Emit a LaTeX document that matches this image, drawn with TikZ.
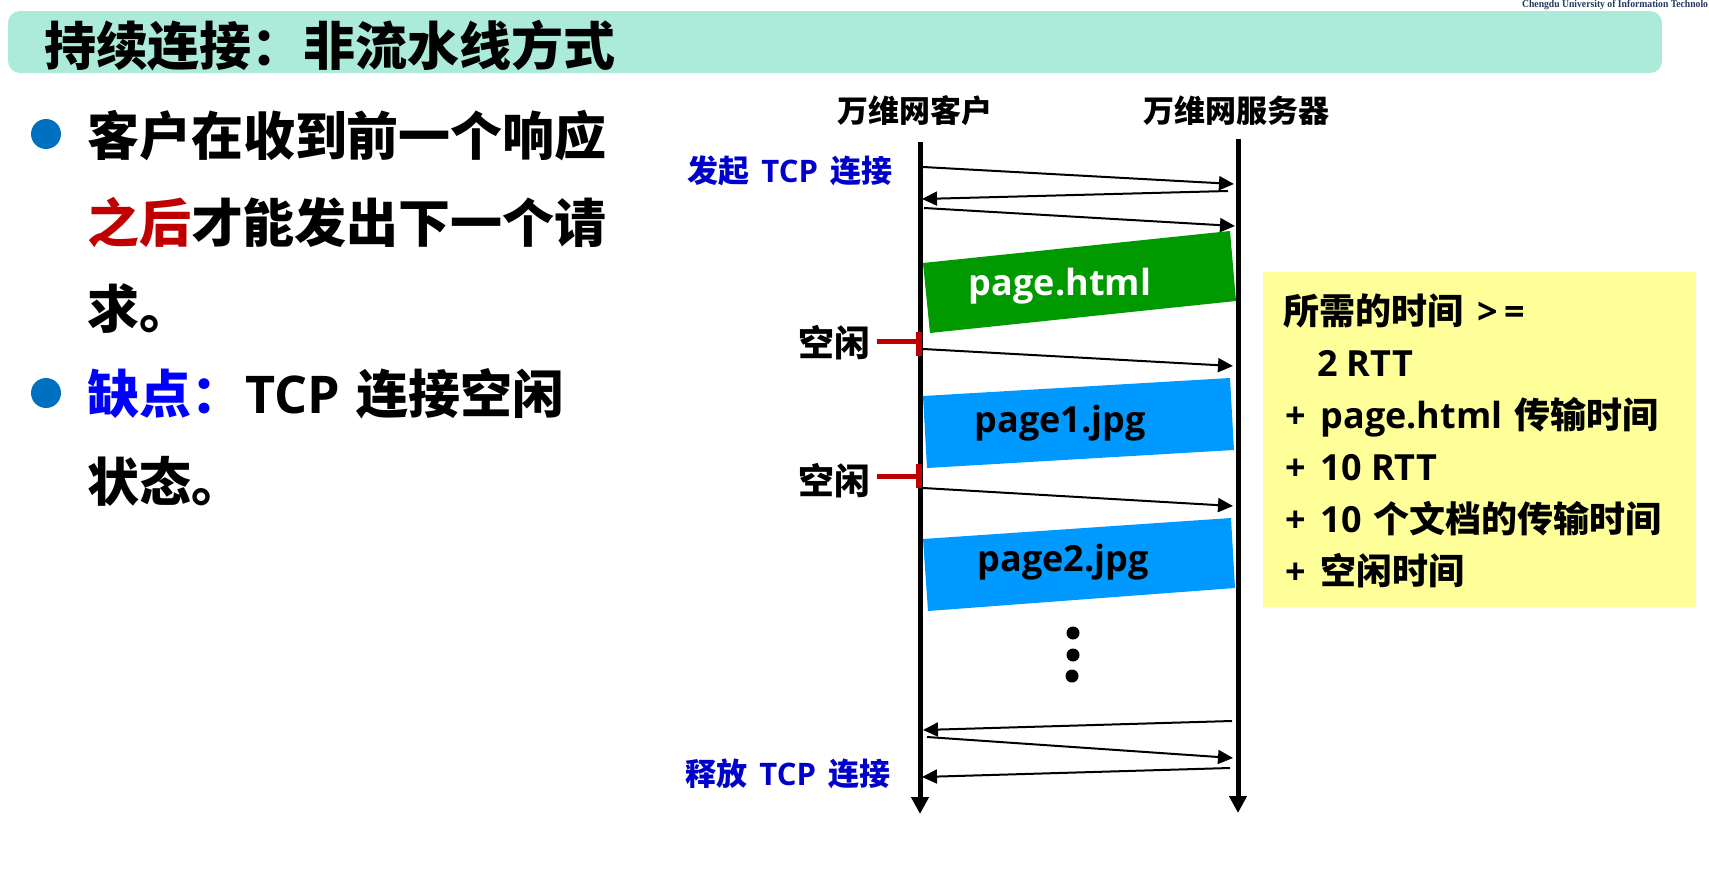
\documentclass[tikz,border=0pt]{standalone}
\usepackage{fontspec}
\usetikzlibrary{arrows.meta}
\setmainfont{Noto Sans CJK SC}
\newfontfamily\latf{Open Sans}
\newfontfamily\capf{Liberation Serif}[FakeStretch=0.92]
\newcommand\latx[1]{{\latf #1}}
\definecolor{barmint}{HTML}{ACEBD9}
\definecolor{bulletblue}{HTML}{0070C0}
\definecolor{hired}{HTML}{C00000}
\definecolor{hiblue}{HTML}{0000FF}
\definecolor{lblblue}{HTML}{0000CC}
\definecolor{htmlgreen}{HTML}{009900}
\definecolor{jpgblue}{HTML}{0099FF}
\definecolor{notebg}{HTML}{FFFF99}
\definecolor{capcol}{HTML}{23395E}
\begin{document}
\begin{tikzpicture}[x=1pt,y=-1pt,
  every node/.style={inner sep=0pt,outer sep=0pt},
  txt/.style={font=\fontsize{#1pt}{#1pt}\selectfont\bfseries},
  life/.style={line width=5pt,-{Triangle[length=17pt,width=17pt]}},
  msg/.style={line width=2pt,-{Triangle[length=15pt,width=14pt]}},
  idle/.style={line width=5pt,hired},
  idletick/.style={line width=6pt,hired},
  dot/.style={circle,fill=black,minimum size=13pt}]
\useasboundingbox (0,0) rectangle (1709,878);

% header bar and small caption
\fill[barmint,rounded corners=12pt] (8,11) rectangle (1662,73);
\node[anchor=base east,font=\capf\bfseries\fontsize{10.5pt}{11pt}\selectfont,text=capcol]
  (caption) at (1708,8) {Chengdu University of Information Technolo};
\node[txt=52,anchor=base west] (title) at (44,65) {持续连接：非流水线方式};

% bullet list
\fill[bulletblue] (46,134) circle (15);
\fill[bulletblue] (46,393) circle (15);
\node[txt=52,anchor=base west] (l1) at (87,155) {客户在收到前一个响应};
\node[txt=52,anchor=base west] (l2) at (87,242) {\textcolor{hired}{之后}才能发出下一个请};
\node[txt=52,anchor=base west] (l3) at (87,328) {求。};
\node[txt=52,anchor=base west] (l4) at (87,413) {\textcolor{hiblue}{缺点：}\hspace{2pt}\latx{TCP}\hspace{17pt}连接空闲};
\node[txt=52,anchor=base west] (l5) at (87,501) {状态。};

% lifeline headers
\node[txt=31,anchor=base] (client) at (915,122) {万维网客户};
\node[txt=31,anchor=base] (server) at (1236,122) {万维网服务器};

% lifelines
\coordinate (cTop) at (920,142);
\coordinate (cBot) at (920,814);
\coordinate (sTop) at (1238,139);
\coordinate (sBot) at (1238,813);
\draw[life] (cTop) -- (cBot);
\draw[life] (sTop) -- (sBot);

% connection set-up
\node[txt=31,anchor=base east,text=lblblue] (open) at (892,182)
  {发起\hspace{12pt}\latx{TCP}\hspace{12pt}连接};
\coordinate (a1s) at (923,167);  \coordinate (a1e) at (1234,184);
\coordinate (a2s) at (1228,191); \coordinate (a2e) at (922,199);
\coordinate (a3s) at (924,208);  \coordinate (a3e) at (1235,226);
\draw[msg] (a1s) -- (a1e);
\draw[msg] (a2s) -- (a2e);
\draw[msg] (a3s) -- (a3e);

% page.html transfer
\fill[htmlgreen] (923,263) -- (1230,231) -- (1236,301) -- (930,333) -- cycle;
\node[txt=36,anchor=base,text=white] (html) at (1060,295) {\latx{page.html}};

% first idle period and request
\node[txt=36,anchor=base east] (idle1) at (870,356) {空闲};
\coordinate (i1a) at (877,341); \coordinate (i1b) at (917,341);
\coordinate (t1a) at (919,332); \coordinate (t1b) at (919,356);
\draw[idle] (i1a) -- (i1b);
\draw[idletick] (t1a) -- (t1b);
\coordinate (a4s) at (923,349); \coordinate (a4e) at (1233,366);
\draw[msg] (a4s) -- (a4e);

% page1.jpg transfer
\fill[jpgblue] (923,396) -- (1230,378) -- (1234,450) -- (927,468) -- cycle;
\node[txt=36,anchor=base] (jpg1) at (1060,432) {\latx{page1.jpg}};

% second idle period and request
\node[txt=36,anchor=base east] (idle2) at (870,494) {空闲};
\coordinate (i2a) at (877,476); \coordinate (i2b) at (917,476);
\coordinate (t2a) at (919,464); \coordinate (t2b) at (919,488);
\draw[idle] (i2a) -- (i2b);
\draw[idletick] (t2a) -- (t2b);
\coordinate (a5s) at (923,488); \coordinate (a5e) at (1233,506);
\draw[msg] (a5s) -- (a5e);

% page2.jpg transfer
\fill[jpgblue] (923,539) -- (1231,518) -- (1235,588) -- (928,611) -- cycle;
\node[txt=36,anchor=base] (jpg2) at (1063,571) {\latx{page2.jpg}};

% ellipsis
\node[dot] (d1) at (1073,633) {};
\node[dot] (d2) at (1073,655) {};
\node[dot] (d3) at (1072,676) {};

% connection release
\coordinate (a6s) at (1232,721); \coordinate (a6e) at (923,730);
\coordinate (a7s) at (927,737);  \coordinate (a7e) at (1233,758);
\coordinate (a8s) at (1230,768); \coordinate (a8e) at (922,777);
\draw[msg] (a6s) -- (a6e);
\draw[msg] (a7s) -- (a7e);
\draw[msg] (a8s) -- (a8e);
\node[txt=31,anchor=base east,text=lblblue] (close) at (890,785)
  {释放\hspace{12pt}\latx{TCP}\hspace{12pt}连接};

% total time note
\fill[notebg] (1263,272) rectangle (1696,607);
\node[txt=36,anchor=base west] (n1) at (1283,324) {所需的时间\hspace{14pt}\latx{>\hspace{7pt}=}};
\node[txt=36,anchor=base west] (n2) at (1317,376) {\latx{2 RTT}};
\node[txt=36,anchor=base west] (n3) at (1285,428) {\latx{+\hspace{15pt}page.html}\hspace{12pt}传输时间};
\node[txt=36,anchor=base west] (n4) at (1285,480) {\latx{+\hspace{15pt}10 RTT}};
\node[txt=36,anchor=base west] (n5) at (1285,532) {\latx{+\hspace{15pt}10}\hspace{12pt}个文档的传输时间};
\node[txt=36,anchor=base west] (n6) at (1285,584) {\latx{+}\hspace{15pt}空闲时间};
\end{tikzpicture}
\end{document}
